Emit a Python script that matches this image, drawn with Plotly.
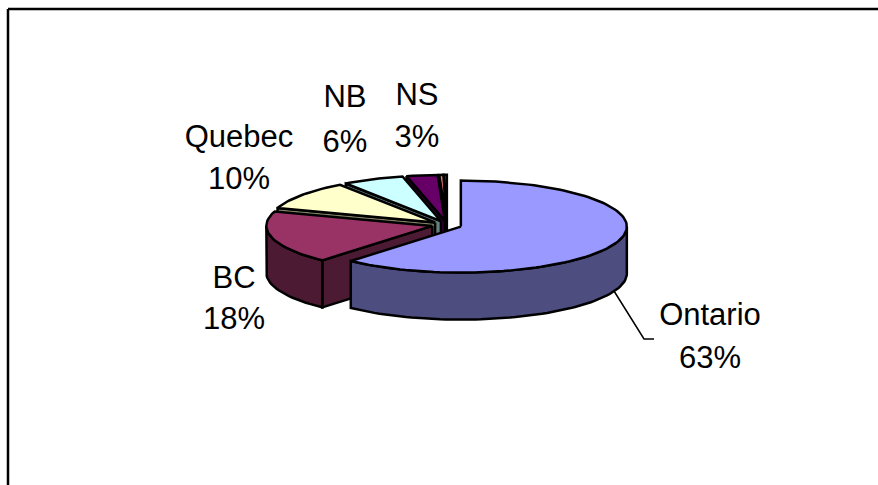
import math
import plotly.graph_objects as go

# Share of the total by province; the two smallest are too small to carry a label.
provinces = ["Ontario", "BC", "Quebec", "NB", "NS", "PEI", "NL"]
shares = [62.6, 17.9, 9.9, 5.9, 3.0, 0.4, 0.3]
top_colors = ["#9999FF", "#993366", "#FFFFCC", "#CCFFFF", "#660066", "#FF8080", "#0066CC"]
wall_colors = ["#4D4D80", "#4D1A33", "#808066", "#668080", "#330033", "#804040", "#003366"]

# Label anchors (x, name y, percent y) for the labelled provinces.
label_x = [710, 234, 239, 345, 417]
label_name_y = [317, 280, 139, 99, 97]
label_pct_y = [360, 321, 181, 144, 139]
leader_x = [614, 644, 654]
leader_y = [291, 339, 339]

CX, CY = 447, 225
RX, RY = 166, 46
DEPTH = 47
EXPLODE = 15
STEP = 2.0
SKEW = 4.5
W, H = 878, 485


def view_angle(angle):
    """Angle on the tilted disc: the oblique view turns the front-left rim slightly."""
    return angle - SKEW * math.sin(math.pi * angle / 360) ** 2


def rim(cx, cy, angle, drop=0.0):
    """Screen point on the disc rim, angle clockwise from 12 o'clock."""
    t = math.radians(angle)
    return cx + RX * math.sin(t), cy - RY * math.cos(t) + drop


def arc(a0, a1):
    n = max(2, int(abs(a1 - a0) / STEP) + 1)
    return [a0 + (a1 - a0) * i / (n - 1) for i in range(n)]


def polygon(points, color):
    xs = [p[0] for p in points] + [points[0][0]]
    ys = [p[1] for p in points] + [points[0][1]]
    return go.Scatter(x=xs, y=ys, mode="lines", fill="toself", fillcolor=color,
                      line=dict(color="black", width=2.5), hoverinfo="skip", showlegend=False)


total = sum(shares)
starts, ends, running = [], [], 0.0
for value in shares:
    starts.append(running)
    running += value / total * 360
    ends.append(running)

fig = go.Figure()

# Painter's order: the slices at the back of the disc go first.
for i in reversed(range(len(shares))):
    mid = math.radians((starts[i] + ends[i]) / 2)
    a0, a1 = view_angle(starts[i]), view_angle(ends[i])
    ax = CX + EXPLODE * math.sin(mid)
    ay = CY - EXPLODE * math.cos(mid) * RY / RX

    # Cut face on the leading edge of the slice.
    if a0 > 180:
        sx, sy = rim(ax, ay, a0)
        fig.add_trace(polygon([(ax, ay), (sx, sy), (sx, sy + DEPTH), (ax, ay + DEPTH)], wall_colors[i]))

    # Outer wall where the rim faces the viewer.
    lo, hi = max(a0, 90), min(a1, 270)
    if hi > lo:
        upper = [rim(ax, ay, a) for a in arc(lo, hi)]
        lower = [rim(ax, ay, a, DEPTH) for a in arc(hi, lo)]
        fig.add_trace(polygon(upper + lower, wall_colors[i]))

    # Top surface.
    fig.add_trace(polygon([(ax, ay)] + [rim(ax, ay, a) for a in arc(a0, a1)], top_colors[i]))

# Leader line from the Ontario slice to its label.
fig.add_trace(go.Scatter(x=leader_x, y=leader_y, mode="lines",
                         line=dict(color="black", width=1.5), hoverinfo="skip", showlegend=False))

# Name and percentage of each labelled slice.
font = dict(family="Liberation Sans, Arial, sans-serif", size=31, color="black")
count = len(label_x)
fig.add_trace(go.Scatter(x=label_x, y=label_name_y, mode="text", text=provinces[:count],
                         textposition="middle center", textfont=font,
                         hoverinfo="skip", showlegend=False))
fig.add_trace(go.Scatter(x=label_x, y=label_pct_y, mode="text",
                         text=[f"{v / total:.0%}" for v in shares[:count]],
                         textposition="middle center", textfont=font,
                         hoverinfo="skip", showlegend=False))

fig.update_layout(
    width=W, height=H, margin=dict(l=0, r=0, t=0, b=0),
    paper_bgcolor="white", plot_bgcolor="white", showlegend=False,
    xaxis=dict(range=[0, W], visible=False, fixedrange=True),
    yaxis=dict(range=[H, 0], visible=False, fixedrange=True),
    shapes=[
        dict(type="line", xref="x", yref="y", x0=8, y0=9, x1=W, y1=9, line=dict(color="black", width=2.5)),
        dict(type="line", xref="x", yref="y", x0=8, y0=9, x1=8, y1=H, line=dict(color="black", width=2.5)),
    ],
)

fig.write_html("out.html", config=dict(displayModeBar=False))
